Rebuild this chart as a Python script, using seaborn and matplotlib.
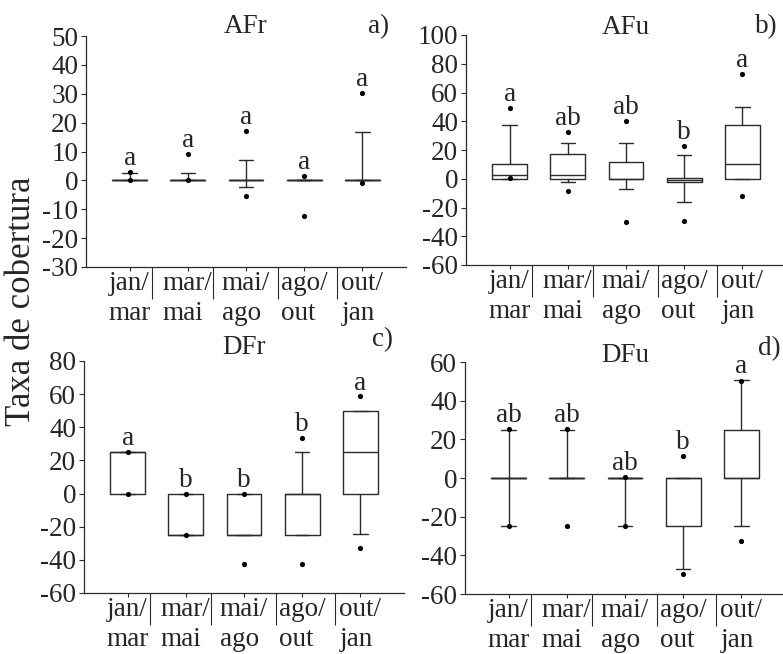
import numpy as np
import matplotlib
matplotlib.use("Agg")
import matplotlib.pyplot as plt
import seaborn as sns

# Sampling periods (x categories)
periods = ["jan/\nmar", "mar/\nmai", "mai/\nago", "ago/\nout", "out/\njan"]

# AFr: box-plot summaries (10th/90th whiskers, 5th/95th points)
afr_whislo = [0, 0, -2.3, 0, 0]
afr_q1 = [0, 0, 0, 0, 0]
afr_med = [0, 0, 0, 0, 0]
afr_q3 = [0, 0, 0, 0, 0]
afr_whishi = [2.6, 2.6, 7.1, 0, 16.7]
afr_p05 = [0.3, 0.3, -5.5, -12.3, -0.8]
afr_p95 = [2.9, 9.0, 17.2, 1.5, 30.4]
afr_letters = ["a", "a", "a", "a", "a"]

# AFu
afu_whislo = [0, -2.5, -7.0, -16.5, 0]
afu_q1 = [0, 0, 0, -2.5, 0]
afu_med = [2.8, 2.3, 0, -1.0, 10.2]
afu_q3 = [10.2, 17.2, 11.6, 0.2, 37.1]
afu_whishi = [37.1, 24.8, 24.8, 16.5, 50.1]
afu_p05 = [0.5, -8.3, -30.4, -29.5, -12.3]
afu_p95 = [49.2, 32.5, 39.9, 23.0, 72.6]
afu_letters = ["a", "ab", "ab", "b", "a"]

# DFr
dfr_whislo = [0, -25, -25, -25, -24.4]
dfr_q1 = [0, -25, -25, -25, 0]
dfr_med = [25, -25, -25, 0, 25]
dfr_q3 = [25, 0, 0, 0, 50]
dfr_whishi = [25, 0, 0, 25, 50]
dfr_p05 = [0, -25, -42.3, -42.3, -32.6]
dfr_p95 = [25, 0, 0, 33.4, 58.6]
dfr_letters = ["a", "b", "b", "b", "a"]

# DFu
dfu_whislo = [-25, 0, -25, -47.3, -25]
dfu_q1 = [0, 0, 0, -25, 0]
dfu_med = [0, 0, 0, 0, 0]
dfu_q3 = [0, 0, 0, 0, 25]
dfu_whishi = [25, 25, 0, 0, 50.8]
dfu_p05 = [-25, -25, -25, -49.7, -32.5]
dfu_p95 = [25.4, 25.4, 0.5, 11.6, 50.4]
dfu_letters = ["ab", "ab", "ab", "b", "a"]

sns.set_theme(style="ticks")
plt.rcParams["font.family"] = ["Liberation Serif", "DejaVu Serif"]
plt.rcParams["axes.unicode_minus"] = False

W, H = 783, 654
fig = plt.figure(figsize=(W / 100, H / 100), dpi=100)

LINE = "#2b2b2b"
FS = 19.5


def px_rect(left, top, width, height):
    return [left / W, 1 - (top + height) / H, width / W, height / H]


def panel(rect, whislo, q1, med, q3, whishi, p05, p95, letters,
          ylim, step, title, tag, title_dy, tag_x, tag_dy, separators):
    ax = fig.add_axes(px_rect(*rect))
    pos = np.arange(len(periods))
    stats = [dict(whislo=a, q1=b, med=c, q3=d, whishi=e, fliers=[])
             for a, b, c, d, e in zip(whislo, q1, med, q3, whishi)]
    ax.bxp(stats, positions=pos, widths=0.6, capwidths=0.25,
           showfliers=False, patch_artist=False,
           boxprops=dict(color=LINE, lw=1.0),
           medianprops=dict(color=LINE, lw=1.0),
           whiskerprops=dict(color=LINE, lw=1.0),
           capprops=dict(color=LINE, lw=1.0))
    sns.scatterplot(x=np.concatenate([pos, pos]),
                    y=np.concatenate([p05, p95]),
                    color="black", s=14, linewidth=0, legend=False,
                    ax=ax, zorder=5)
    # significance letters above each period
    for i in pos:
        top = max(whishi[i], q3[i], p95[i])
        ax.annotate(letters[i], xy=(i, top), xytext=(0, 5),
                    textcoords="offset points", ha="center",
                    va="baseline", fontsize=FS)

    ax.set_xlim(-0.75, 4.75)
    ax.set_ylim(*ylim)
    ax.set_yticks(np.arange(ylim[0], ylim[1] + 1, step))
    ax.set_xticks(pos)
    ax.set_xticklabels(periods, fontsize=FS, linespacing=1.25,
                       multialignment="left")
    ax.set_xticks(separators, minor=True)
    ax.tick_params(axis="x", which="major", length=3, width=0.8,
                   color=LINE, pad=0)
    ax.tick_params(axis="x", which="minor", length=23, width=0.8,
                   color=LINE)
    ax.tick_params(axis="y", length=3.5, width=0.8, color=LINE, pad=2,
                   labelsize=FS)
    for s in ("top", "right"):
        ax.spines[s].set_visible(False)
    for s in ("left", "bottom"):
        ax.spines[s].set_color(LINE)
        ax.spines[s].set_linewidth(0.9)
    ax.annotate(title, xy=(0.5, 1), xycoords="axes fraction",
                xytext=(0, title_dy), textcoords="offset points",
                ha="center", va="baseline", fontsize=FS)
    ax.annotate(tag, xy=(tag_x, 1), xycoords="axes fraction",
                xytext=(0, tag_dy), textcoords="offset points",
                ha="right", va="baseline", fontsize=FS)
    return ax


seps = [0.38, 1.44, 2.55, 3.57]

panel((86, 36, 320, 231), afr_whislo, afr_q1, afr_med, afr_q3, afr_whishi,
      afr_p05, afr_p95, afr_letters, (-30, 50), 10, "AFr", "a)",
      2, 0.947, 2, seps)
panel((466, 35, 320, 230), afu_whislo, afu_q1, afu_med, afu_q3, afu_whishi,
      afu_p05, afu_p95, afu_letters, (-60, 100), 20, "AFu", "b)",
      1, 0.975, 1, seps)
panel((84, 361, 320, 232), dfr_whislo, dfr_q1, dfr_med, dfr_q3, dfr_whishi,
      dfr_p05, dfr_p95, dfr_letters, (-60, 80), 20, "DFr", "c)",
      5, 0.966, 11, seps)
panel((465, 362, 320, 232), dfu_whislo, dfu_q1, dfu_med, dfu_q3, dfu_whishi,
      dfu_p05, dfu_p95, dfu_letters, (-60, 60), 20, "DFu", "d)",
      0, 0.985, 5, seps)

fig.text(0.027, 0.54, "Taxa de cobertura", rotation=90, ha="center",
         va="center", fontsize=25)

fig.savefig("out.png", dpi=100)
